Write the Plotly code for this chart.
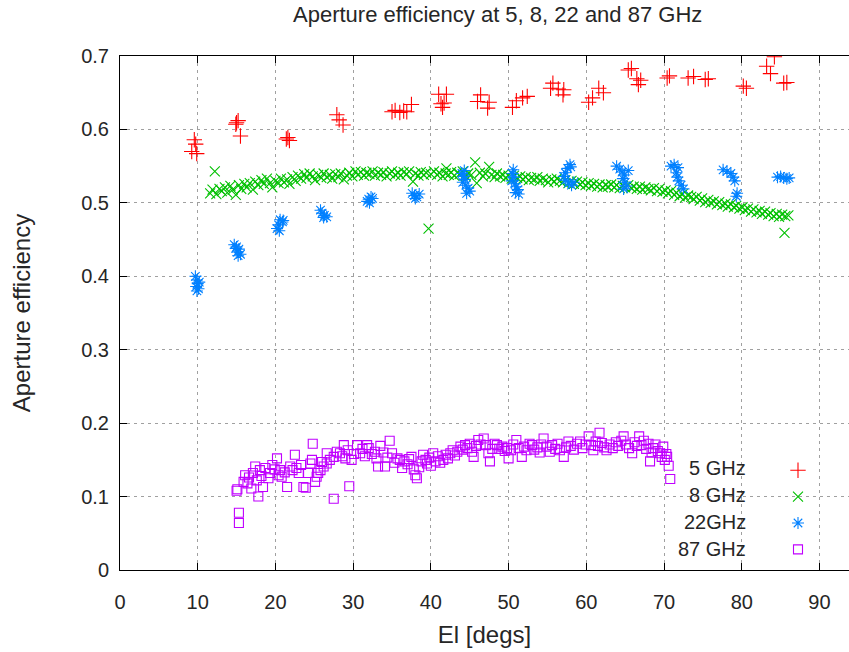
import plotly.graph_objects as go

# ---------------- data ----------------
x5 = [9.56, 9.74, 9.23, 9.87, 15.0, 15.2, 14.9, 15.5, 21.4, 21.6, 21.8, 27.9, 28.2, 28.7,
      35.0, 35.4, 36.0, 36.5, 36.9, 37.5, 41.0, 42.0, 41.3, 41.5, 41.7, 46.4, 46.0, 47.5, 47.3,
      50.5, 51.0, 51.8, 52.4, 55.7, 55.4, 56.4, 57.1, 57.0, 60.3, 60.8, 61.6, 62.2,
      65.4, 65.8, 66.5, 67.0, 66.7, 70.4, 70.7, 73.1, 73.8, 75.3, 75.7, 80.2, 80.6,
      83.2, 83.7, 84.2, 85.4, 85.8]
y5 = [0.586, 0.580, 0.570, 0.567, 0.609, 0.612, 0.607, 0.591, 0.587, 0.589, 0.585, 0.620, 0.613, 0.606,
      0.624, 0.626, 0.623, 0.625, 0.624, 0.634, 0.648, 0.648, 0.635, 0.630, 0.636, 0.647, 0.638, 0.637, 0.629,
      0.630, 0.639, 0.643, 0.645, 0.663, 0.656, 0.655, 0.654, 0.647, 0.637, 0.643, 0.656, 0.650,
      0.681, 0.683, 0.669, 0.667, 0.661, 0.670, 0.673, 0.670, 0.672, 0.668, 0.669, 0.659, 0.656,
      0.686, 0.676, 0.699, 0.663, 0.664]

x8 = [11.6, 11.9, 12.2, 12.4, 12.8, 13.1, 13.5, 13.8, 14.2, 14.5, 14.9, 15.3, 15.6, 16.0, 16.3, 16.7,
      17.1, 17.4, 17.8, 18.2, 18.5, 18.9, 19.3, 19.6, 20.0,
      20.4, 20.7, 21.1, 21.5, 21.8, 22.2, 22.6, 22.9, 23.3, 23.7, 24.0, 24.4, 24.8, 25.1, 25.5, 25.9,
      26.2, 26.6, 27.0, 27.3, 27.7, 28.1, 28.4, 28.8, 29.2, 29.5, 29.9,
      30.3, 30.6, 31.0, 31.4, 31.7, 32.1, 32.5, 32.8, 33.2, 33.6, 33.9, 34.3, 34.7, 35.0, 35.4, 35.8,
      36.1, 36.5, 36.9, 37.2, 37.7, 38.0, 38.4, 38.7, 39.1, 39.4, 39.7, 40.0,
      40.4, 40.8, 41.1, 41.5, 41.9, 42.0, 42.3, 42.6, 43.0, 43.4, 43.7, 44.1, 44.5, 44.8, 45.2, 45.7,
      45.9, 46.3, 46.7, 47.0, 47.5, 47.8, 48.2, 48.5, 48.9, 49.3, 49.6, 50.0,
      50.4, 50.7, 51.1, 51.5, 51.8, 52.2, 52.6, 52.9, 53.3, 53.7, 54.0, 54.4, 54.8, 55.1, 55.5, 55.9,
      56.2, 56.6, 57.0, 57.3, 57.7, 58.1, 58.4, 58.8, 59.2, 59.5, 59.9,
      60.3, 60.6, 61.0, 61.4, 61.7, 62.1, 62.5, 62.8, 63.2, 63.6, 63.9, 64.3, 64.7, 65.0, 65.4, 65.8,
      66.1, 66.5, 66.9, 67.2, 67.6, 68.0, 68.3, 68.7, 69.1, 69.4, 69.8,
      70.2, 70.5, 70.9, 71.3, 71.6, 72.0, 72.4, 72.7, 73.1, 73.5, 73.8, 74.2, 74.6, 74.9, 75.3, 75.7,
      76.0, 76.4, 76.8, 77.1, 77.5, 77.9, 78.2, 78.6, 79.0, 79.3, 79.7,
      80.1, 80.4, 80.8, 81.2, 81.5, 81.9, 82.3, 82.6, 83.0, 83.4, 83.7, 84.1, 84.5, 84.8, 85.2, 85.5,
      85.6, 86.0]
y8 = [0.513, 0.518, 0.543, 0.512, 0.519, 0.516, 0.521, 0.514, 0.523, 0.518, 0.511, 0.524, 0.519, 0.526, 0.521, 0.527,
      0.518, 0.529, 0.524, 0.531, 0.526, 0.533, 0.527, 0.521, 0.530,
      0.527, 0.533, 0.528, 0.532, 0.526, 0.535, 0.530, 0.537, 0.533, 0.539, 0.534, 0.540, 0.536, 0.531, 0.538, 0.534,
      0.540, 0.535, 0.538, 0.533, 0.539, 0.535, 0.540, 0.532, 0.537, 0.541, 0.536,
      0.543, 0.538, 0.542, 0.537, 0.541, 0.539, 0.543, 0.537, 0.541, 0.538, 0.542, 0.536, 0.540, 0.543, 0.538, 0.541,
      0.537, 0.542, 0.539, 0.543, 0.529, 0.540, 0.537, 0.542, 0.538, 0.541, 0.465, 0.539,
      0.543, 0.538, 0.541, 0.536, 0.540, 0.547, 0.538, 0.542, 0.537, 0.541, 0.539, 0.543, 0.536, 0.540, 0.538, 0.555,
      0.527, 0.541, 0.536, 0.540, 0.549, 0.538, 0.535, 0.540, 0.536, 0.538, 0.534, 0.537,
      0.533, 0.537, 0.534, 0.536, 0.532, 0.535, 0.531, 0.534, 0.532, 0.535, 0.530, 0.533, 0.531, 0.528, 0.532, 0.529,
      0.533, 0.530, 0.528, 0.531, 0.527, 0.530, 0.526, 0.529, 0.525, 0.528, 0.524,
      0.527, 0.523, 0.526, 0.522, 0.525, 0.521, 0.524, 0.522, 0.525, 0.521, 0.524, 0.520, 0.523, 0.521, 0.524, 0.520,
      0.522, 0.519, 0.522, 0.518, 0.521, 0.519, 0.517, 0.520, 0.516, 0.519, 0.515,
      0.517, 0.513, 0.516, 0.511, 0.514, 0.509, 0.512, 0.507, 0.510, 0.508, 0.505, 0.508, 0.503, 0.506, 0.501, 0.504,
      0.500, 0.502, 0.498, 0.501, 0.497, 0.499, 0.495, 0.498, 0.494, 0.496, 0.492,
      0.494, 0.490, 0.492, 0.488, 0.491, 0.487, 0.489, 0.485, 0.488, 0.484, 0.486, 0.482, 0.485, 0.481, 0.484, 0.459,
      0.482, 0.483]

x22 = [9.7, 9.9, 10.0, 9.8, 10.1, 9.9, 10.2,
       14.7, 15.0, 15.3, 15.1, 15.5, 15.2, 14.9,
       20.6, 20.9, 20.4, 20.2, 20.5, 21.0,
       25.8, 26.0, 26.3, 26.6, 26.2,
       31.8, 32.0, 32.3, 32.5, 32.1,
       37.6, 37.9, 38.2, 38.5, 38.0,
       44.0, 44.2, 44.4, 44.1, 44.5, 44.8, 45.0, 44.6, 44.3,
       50.5, 50.7, 50.4, 50.8, 51.0, 51.2, 50.9, 50.6, 51.3,
       57.9, 57.6, 57.3, 57.1, 57.3, 57.7, 58.1, 58.4, 58.0,
       63.9, 64.3, 64.6, 64.9, 64.7, 65.0, 65.2, 64.8, 65.4,
       70.9, 71.3, 71.8, 71.6, 71.7, 71.9, 72.2, 72.5,
       77.6, 78.1, 78.6, 78.9, 79.1, 79.4, 79.3,
       84.6, 85.0, 85.4, 85.8, 86.1]
y22 = [0.400, 0.395, 0.390, 0.386, 0.383, 0.380, 0.392,
       0.443, 0.440, 0.437, 0.433, 0.430, 0.428, 0.438,
       0.477, 0.474, 0.470, 0.465, 0.462, 0.476,
       0.490, 0.486, 0.483, 0.481, 0.480,
       0.502, 0.505, 0.508, 0.506, 0.500,
       0.513, 0.510, 0.508, 0.512, 0.506,
       0.540, 0.536, 0.532, 0.528, 0.524, 0.520, 0.516, 0.513, 0.544,
       0.540, 0.535, 0.530, 0.526, 0.522, 0.518, 0.514, 0.545, 0.512,
       0.552, 0.547, 0.541, 0.536, 0.531, 0.527, 0.524, 0.528, 0.549,
       0.550, 0.546, 0.542, 0.538, 0.533, 0.528, 0.523, 0.519, 0.544,
       0.550, 0.552, 0.548, 0.541, 0.535, 0.530, 0.524, 0.519,
       0.545, 0.543, 0.540, 0.535, 0.530, 0.513, 0.509,
       0.535, 0.536, 0.534, 0.533, 0.534]

x87 = [15.0, 15.1, 15.3, 15.3, 15.9, 16.1, 16.4, 16.6, 16.9, 17.1, 17.4, 17.6, 17.8, 18.0, 18.2, 18.4,
       18.7, 19.1, 19.3, 19.6, 19.9, 20.2, 20.4, 20.6, 20.8, 21.2, 21.5, 21.9, 22.2, 22.5, 22.7, 23.0,
       23.3, 23.6, 23.9, 24.2, 24.5, 24.7, 24.8, 25.1, 25.3, 25.5, 25.8, 26.0, 26.2, 26.6, 26.6, 27.0,
       27.5, 27.5, 27.9, 28.3, 28.6, 28.8, 29.0, 29.3, 29.5, 29.8, 30.1, 30.5, 30.9, 31.2, 31.5, 31.8,
       32.0, 32.4, 32.8, 33.0, 33.2, 33.5, 33.9, 34.1, 34.4, 34.7, 35.0, 35.3, 35.7, 36.0, 36.3, 36.6,
       37.0, 37.2, 37.5, 37.8, 38.0, 38.2, 38.5, 38.8, 39.0, 39.3, 39.5, 39.8, 40.0, 40.3, 40.6, 40.9,
       41.2, 41.6, 41.9, 42.2, 42.5, 42.8, 43.1, 43.4, 43.8, 44.1, 44.4, 44.7, 45.0, 45.3, 45.5, 45.8,
       46.1, 46.4, 46.8, 47.1, 47.4, 47.6, 47.9, 48.2, 48.5, 48.8, 49.2, 49.5, 49.8, 50.0, 50.3, 50.6,
       51.0, 51.3, 51.7, 52.0, 52.3, 52.7, 53.0, 53.3, 53.7, 54.0, 54.2, 54.5, 54.9, 55.3, 55.6, 56.0,
       56.3, 56.6, 57.1, 57.4, 57.7, 58.0, 58.4, 58.8, 59.2, 59.5, 59.9, 60.3, 60.6, 60.9, 61.2, 61.5,
       61.7, 62.0, 62.3, 62.6, 63.0, 63.4, 63.8, 64.1, 64.5, 64.8, 65.1, 65.5, 65.9, 66.2, 66.5, 66.8,
       67.1, 67.4, 67.7, 68.0, 68.2, 68.4, 68.6, 68.9, 69.2, 69.5, 69.7, 69.9, 70.1, 70.4, 70.6, 70.8,
       70.3]
y87 = [0.108, 0.110, 0.078, 0.064, 0.120, 0.129, 0.118, 0.126, 0.111, 0.132, 0.141, 0.122, 0.100, 0.136, 0.128, 0.113,
       0.139, 0.125, 0.132, 0.143, 0.137, 0.152, 0.129, 0.136, 0.127, 0.133, 0.113, 0.141, 0.136, 0.157, 0.139, 0.132,
       0.143, 0.113, 0.112, 0.132, 0.145, 0.150, 0.172, 0.120, 0.127, 0.132, 0.136, 0.147, 0.141, 0.159, 0.145, 0.150,
       0.097, 0.154, 0.161, 0.159, 0.155, 0.170, 0.152, 0.163, 0.114, 0.150, 0.158, 0.170, 0.159, 0.165, 0.155, 0.170,
       0.166, 0.158, 0.161, 0.152, 0.141, 0.169, 0.160, 0.141, 0.153, 0.176, 0.159, 0.146, 0.152, 0.150, 0.139, 0.148,
       0.144, 0.151, 0.154, 0.137, 0.129, 0.125, 0.140, 0.148, 0.157, 0.150, 0.145, 0.153, 0.142, 0.159, 0.148, 0.155,
       0.146, 0.150, 0.157, 0.152, 0.159, 0.163, 0.156, 0.161, 0.168, 0.164, 0.170, 0.166, 0.172, 0.161, 0.154, 0.169,
       0.177, 0.171, 0.179, 0.170, 0.159, 0.148, 0.165, 0.172, 0.170, 0.165, 0.168, 0.162, 0.166, 0.152, 0.163, 0.171,
       0.177, 0.166, 0.154, 0.168, 0.163, 0.172, 0.170, 0.164, 0.167, 0.160, 0.171, 0.179, 0.168, 0.161, 0.170, 0.165,
       0.172, 0.163, 0.154, 0.167, 0.175, 0.169, 0.164, 0.172, 0.175, 0.166, 0.171, 0.182, 0.170, 0.163, 0.175, 0.169,
       0.187, 0.173, 0.167, 0.163, 0.171, 0.166, 0.174, 0.169, 0.176, 0.182, 0.171, 0.166, 0.159, 0.174, 0.169, 0.182,
       0.170, 0.176, 0.165, 0.172, 0.148, 0.160, 0.166, 0.171, 0.162, 0.159, 0.154, 0.168, 0.150, 0.154, 0.142, 0.124,
       0.158]

labels = ["5 GHz", "8 GHz", "22GHz", "87 GHz"]
colors = ["#ff0000", "#00c000", "#0080ff", "#c000ff"]
x_ticks = [0, 10, 20, 30, 40, 50, 60, 70, 80, 90]
y_ticks = [0, 0.1, 0.2, 0.3, 0.4, 0.5, 0.6, 0.7]

FONT = "Liberation Sans"
FS = 20
TXT = "#262626"

fig = go.Figure()
series = [
    (x5, y5, "cross-thin-open", 11),
    (x8, y8, "x-thin-open", 10),
    (x22, y22, "asterisk-open", 10),
    (x87, y87, "square-open", 9),
]
for (xs, ys, sym, sz), lab, col in zip(series, labels, colors):
    fig.add_trace(go.Scatter(
        x=xs, y=ys, mode="markers", name="",
        hovertemplate=lab + "<br>El=%{x}<br>eff=%{y}<extra></extra>",
        marker=dict(symbol=sym, size=sz, color=col,
                    line=dict(color=col, width=1.1)),
    ))

# key labels (gnuplot-style: text right-aligned, symbol to its right)
key_y = [468, 495, 522, 549]
annotations = []
for lab, py in zip(labels, key_y):
    annotations.append(dict(
        text=lab, xref="paper", yref="paper",
        x=(748 - 120) / 729, y=(570 - py) / 514,
        xanchor="right", yanchor="middle", showarrow=False,
        font=dict(family=FONT, size=FS, color=TXT),
    ))
annotations.append(dict(
    text="Aperture efficiency at 5, 8, 22 and 87 GHz", xref="paper", yref="paper",
    x=(497 - 120) / 729, y=1, yshift=42, xanchor="center", yanchor="middle",
    showarrow=False, font=dict(family=FONT, size=22, color=TXT),
))

grid = dict(showgrid=True, gridcolor="#a0a0a0", gridwidth=1, griddash="3px,4px")

fig.update_layout(
    width=849, height=652,
    margin=dict(l=120, r=0, t=56, b=82),
    paper_bgcolor="white", plot_bgcolor="white",
    font=dict(family=FONT, size=FS, color=TXT),
    showlegend=True,
    legend=dict(x=(778 - 120) / 729, xanchor="left", y=(570 - 452) / 514, yanchor="top",
                bgcolor="rgba(0,0,0,0)", borderwidth=0, tracegroupgap=0,
                font=dict(size=18)),
    annotations=annotations,
    xaxis=dict(range=[0, 93.8], tickvals=x_ticks, ticks="inside", ticklen=7,
               tickcolor="#000", showline=True, linecolor="#000", linewidth=1,
               mirror="ticks", zeroline=False, ticklabelstandoff=14,
               title=dict(text="El [degs]", standoff=14), **grid),
    yaxis=dict(range=[0, 0.7], tickvals=y_ticks, ticks="inside", ticklen=7,
               tickcolor="#000", showline=True, linecolor="#000", linewidth=1,
               mirror=False, zeroline=False, ticklabelstandoff=6,
               title=dict(text="Aperture efficiency", standoff=43), **grid),
)

fig.write_html("out.html")
